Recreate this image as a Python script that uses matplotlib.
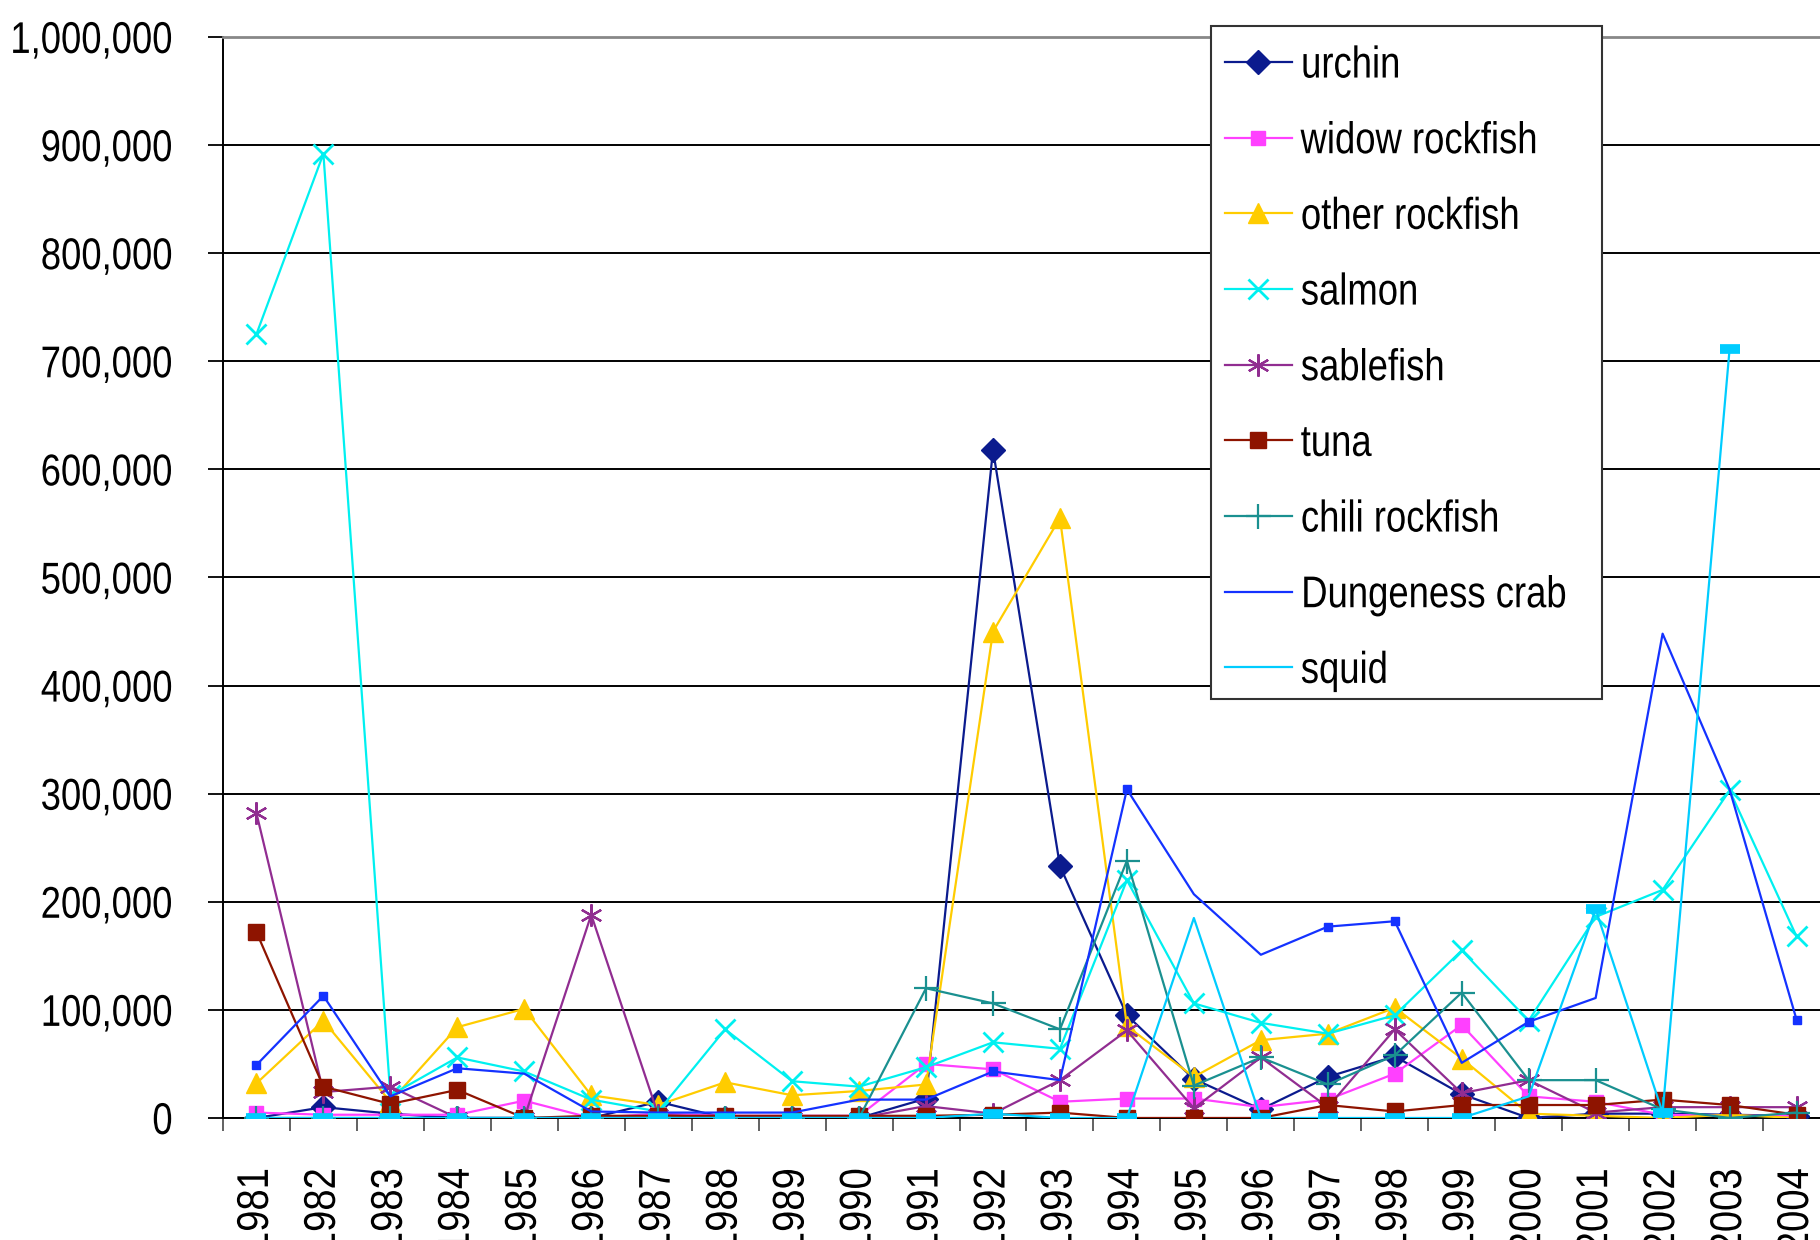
import matplotlib
matplotlib.use("Agg")
import matplotlib.pyplot as plt
from matplotlib.ticker import FuncFormatter, MultipleLocator
from matplotlib import patheffects
from matplotlib.patches import Rectangle
from matplotlib.transforms import Affine2D
import numpy as np

plt.rcParams['font.family'] = ['Liberation Sans', 'DejaVu Sans']

# years on the category axis
years = [str(y) for y in range(1981, 2005)]

# landings per species, one value per year
urchin = [0, 10000, 4000, 0, 0, 0, 15000, 0, 0, 0, 18000, 618000,
          233000, 95000, 36000, 8000, 38000, 57000, 22000, 0, 4000, 4000, 3000, 2000]
widow_rockfish = [5000, 3000, 3000, 3000, 16000, 0, 4000, 2000, 2000, 2000, 50000, 45000,
                  15000, 18000, 18000, 10000, 17000, 41000, 86000, 20000, 15000, 3000, 2000, 2000]
other_rockfish = [32000, 90000, 15000, 84000, 101000, 21000, 12000, 33000, 21000, 25000, 31000, 450000,
                  555000, 85000, 38000, 72000, 78000, 102000, 55000, 4000, 2000, 0, 3000, 0]
salmon = [725000, 892000, 21000, 56000, 43000, 17000, 6000, 82000, 34000, 29000, 47000, 70000,
          64000, 220000, 106000, 88000, 78000, 95000, 155000, 90000, 186000, 211000, 303000, 168000]
sablefish = [282000, 24000, 29000, 0, 0, 188000, 3000, 0, 0, 0, 11000, 4000,
             35000, 81000, 9000, 56000, 10000, 82000, 23000, 35000, 5000, 10000, 10000, 10000]
tuna = [172000, 29000, 13000, 26000, 0, 2000, 2000, 2000, 2000, 2000, 2000, 3000,
        5000, 0, 0, 0, 12000, 6000, 12000, 12000, 12000, 17000, 12000, 3000]
chili_rockfish = [0, 0, 0, 0, 0, 0, 0, 0, 0, 0, 120000, 106000,
                  82000, 238000, 30000, 56000, 31000, 58000, 116000, 35000, 35000, 8000, 0, 5000]
dungeness_crab = [49000, 113000, 20000, 46000, 41000, 6000, 5000, 5000, 5000, 17000, 17000, 43000,
                  35000, 304000, 207000, 151000, 177000, 182000, 51000, 89000, 111000, 448000, 304000, 91000]
squid = [0, 0, 0, 0, 0, 0, 0, 0, 0, 0, 0, 4000,
         0, 0, 185000, 0, 0, 0, 0, 20000, 193000, 5000, 711000, np.nan]

series = [
    ("urchin", urchin, "#0B1B8E", "D", 12, 1.0),
    ("widow rockfish", widow_rockfish, "#FF40FF", "s", 10, 1.0),
    ("other rockfish", other_rockfish, "#FFCC00", "^", 14, 1.0),
    ("salmon", salmon, "#00F0F0", "x", 15, 2.0),
    ("sablefish", sablefish, "#912D91", (6, 2, 0), 16, 1.6),
    ("tuna", tuna, "#8E1400", "s", 11, 1.0),
    ("chili rockfish", chili_rockfish, "#1A9090", "+", 18, 1.6),
]

# points where the plain-line series still show a small marker
crab_marks = [0, 1, 3, 11, 13, 16, 17, 19, 23]
squid_marks = [i for i in range(24) if i not in (14, 19)]


class Squeeze(patheffects.AbstractPathEffect):
    # narrow the text horizontally (the original uses a condensed Arial)
    def __init__(self, sx=0.82, anchor="left"):
        super().__init__()
        self.sx = sx
        self.anchor = anchor

    def draw_path(self, renderer, gc, tpath, affine, rgbFace=None):
        ext = tpath.get_extents()
        x0 = ext.x0 if self.anchor == "left" else ext.x1
        t = Affine2D().translate(-x0, 0).scale(self.sx, 1).translate(x0, 0) + affine
        renderer.draw_path(gc, tpath, t, rgbFace)


x = np.arange(len(years))

fig = plt.figure(figsize=(18.2, 12.4), dpi=100)
ax = fig.add_axes([0.1225, 0.0984, 0.8830, 0.8718])

for name, vals, col, mk, ms, mew in series:
    ax.plot(x, vals, color=col, lw=1.6, marker=mk, ms=ms, mew=mew,
            mec=col, mfc=col, label=name, zorder=3)

ax.plot(x, dungeness_crab, color="#1432FF", lw=1.6, label="Dungeness crab", zorder=3)
ax.plot(x, dungeness_crab, color="#1432FF", ls="none", marker="s", ms=6,
        markevery=crab_marks, zorder=3)
ax.plot(x, squid, color="#00CCFF", lw=1.6, label="squid", zorder=3)
ax.plot(x, squid, color="#00CCFF", ls="none", marker="_", ms=14, mew=7,
        markevery=squid_marks, zorder=3)

ax.set_xlim(-0.5, len(years) - 0.5)
ax.set_ylim(0, 1000000)

ax.yaxis.set_major_locator(MultipleLocator(100000))
ax.yaxis.set_major_formatter(FuncFormatter(lambda v, p: f"{v:,.0f}"))
ax.grid(axis="y", color="black", lw=1.4)
ax.set_axisbelow(True)

ax.set_xticks(x)
ax.set_xticklabels(years, rotation=90, va="top", ha="center")
ax.set_xticks(np.arange(-0.5, len(years)), minor=True)
ax.tick_params(axis="x", which="major", length=0, pad=36, labelsize=32)
ax.tick_params(axis="x", which="minor", length=9, width=1.3, color="#555555", direction="out")
ax.tick_params(axis="y", length=11, width=1.3, pad=25, labelsize=32, direction="out")

for t in ax.get_xticklabels():
    t.set_path_effects([Squeeze(0.86, "right")])
for t in ax.get_yticklabels():
    t.set_path_effects([Squeeze(0.82, "right")])

ax.spines["right"].set_visible(False)
ax.spines["top"].set_color("#888888")
ax.spines["top"].set_linewidth(2)
ax.spines["left"].set_linewidth(1.4)
ax.spines["bottom"].set_linewidth(1.4)

# legend box drawn on its own so it fits the narrowed text
ax.add_patch(Rectangle((1211 / 1820, 1 - 699 / 1240), 391 / 1820, 673 / 1240,
                       transform=fig.transFigure, facecolor="white",
                       edgecolor="#333333", lw=1.5, zorder=4, clip_on=False))

leg = ax.legend(loc="upper left", bbox_to_anchor=(0.6621, 0.9794),
                bbox_transform=fig.transFigure, borderaxespad=0,
                fontsize=32, handlelength=1.5, handletextpad=0.2,
                labelspacing=0.78, borderpad=0.45, frameon=False,
                numpoints=1)
leg.set_zorder(5)
for t in leg.get_texts():
    t.set_path_effects([Squeeze(0.82, "left")])

fig.savefig("out.png", dpi=100)
